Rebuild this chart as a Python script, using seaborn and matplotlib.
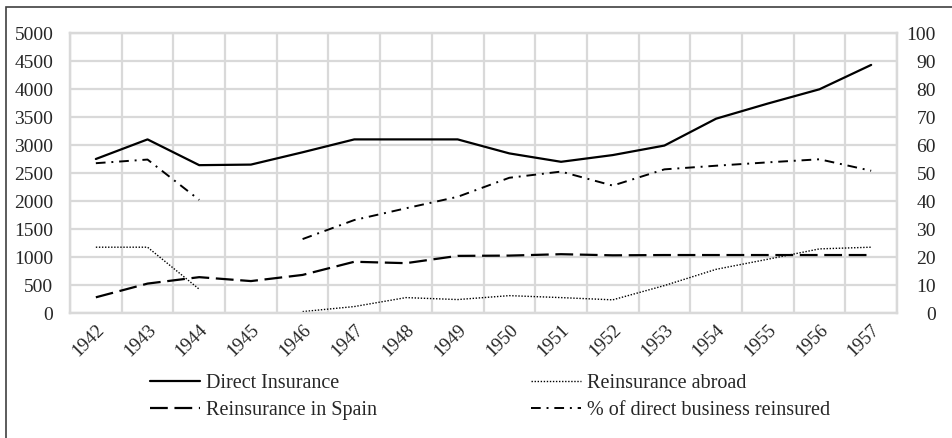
import numpy as np
import matplotlib
matplotlib.use("Agg")
import matplotlib.pyplot as plt
from matplotlib.lines import Line2D
from matplotlib.patches import Rectangle
import pandas as pd
import seaborn as sns

# data
years = [str(y) for y in range(1942, 1958)]
direct_insurance = [2750, 3100, 2640, 2650, 2870, 3100, 3100, 3100, 2850, 2700,
                    2820, 2990, 3470, 3740, 3995, 4430]
reins_spain = [280, 525, 640, 570, 680, 915, 890, 1020, 1025, 1050,
               1030, 1035, 1035, 1035, 1035, 1035]
reins_abroad = [1175, 1175, 425, np.nan, 25, 115, 275, 240, 310, 275,
                235, 490, 780, 960, 1145, 1175]
pct_reinsured = [53.5, 54.8, 40.4, np.nan, 26.4, 33.2, 37.4, 41.5, 48.3, 50.5,
                 45.5, 51.3, 52.6, 53.8, 54.9, 50.8]

left_ticks = list(range(0, 5001, 500))
right_ticks = list(range(0, 101, 10))

GRID = "#d9d9d9"
sns.set_theme(style="white")
plt.rcParams["font.family"] = ["Liberation Serif", "DejaVu Serif"]
plt.rcParams["font.size"] = 14

fig = plt.figure(figsize=(9.52, 4.38), dpi=100)
ax = fig.add_axes([70 / 952, 1 - 313 / 438, 827 / 952, 280 / 438])
ax2 = ax.twinx()

styles = {
    "Direct Insurance": dict(linestyle="-", linewidth=1.6),
    "Reinsurance in Spain": dict(linestyle=(0, (8, 3)), linewidth=1.6),
    "Reinsurance abroad": dict(linestyle=(0, (1, 1.2)), linewidth=1.0),
    "% of direct business reinsured": dict(linestyle=(0, (5, 3, 1, 3)), linewidth=1.4),
}

def draw(target, values, name):
    df = pd.DataFrame({"x": np.arange(len(years)), "y": values})
    # split on gaps so the line breaks where a year is missing
    seg = df["y"].isna().cumsum()
    for _, part in df.dropna().groupby(seg[df["y"].notna()]):
        sns.lineplot(data=part, x="x", y="y", ax=target, color="black",
                     legend=False, **styles[name])

draw(ax, direct_insurance, "Direct Insurance")
draw(ax, reins_spain, "Reinsurance in Spain")
draw(ax, reins_abroad, "Reinsurance abroad")
draw(ax2, pct_reinsured, "% of direct business reinsured")

ax.set_xlim(-0.5, len(years) - 0.5)
ax.set_ylim(0, 5000)
ax2.set_ylim(0, 100)
ax.set_xticks(np.arange(len(years)))
ax.set_xticks(np.arange(len(years) + 1) - 0.5, minor=True)
ax.set_xticklabels(years, rotation=45, ha="right", va="top",
                   rotation_mode="anchor")
ax.set_yticks(left_ticks)
ax2.set_yticks(right_ticks)
for lab in ax2.get_yticklabels():
    lab.set_horizontalalignment("right")

ax.grid(False)
ax2.grid(False)
ax.grid(True, axis="x", which="minor", color=GRID, linewidth=1.6)
ax.grid(True, axis="y", which="major", color=GRID, linewidth=1.6)
ax.tick_params(axis="x", which="both", length=0, pad=6, labelsize=13.5)
ax.tick_params(axis="y", length=0, pad=12, labelsize=14)
ax2.tick_params(axis="y", length=0, pad=28, labelsize=14)
ax.set_xlabel("")
ax.set_ylabel("")
ax2.set_xlabel("")
ax2.set_ylabel("")
for a in (ax, ax2):
    for sp in a.spines.values():
        sp.set_color(GRID)
        sp.set_linewidth(1.6)

labels = ["Direct Insurance", "Reinsurance in Spain",
          "Reinsurance abroad", "% of direct business reinsured"]
handles = [Line2D([], [], color="black", **styles[n]) for n in labels]
fig.legend(handles, labels, ncol=2, frameon=False, fontsize=14.5,
           loc="upper left", bbox_to_anchor=(136 / 952, 1 - 360 / 438),
           handlelength=2.5, handletextpad=0.3, columnspacing=7.6,
           labelspacing=0.4, borderpad=0.2)

# outer chart border (only top and left edges fall inside the image)
fig.add_artist(Rectangle((5.5 / 952, -0.2), 2, 1.2 - 6.5 / 438,
                         transform=fig.transFigure, fill=False,
                         edgecolor="#404040", linewidth=1.2))

fig.savefig("out.png", dpi=100)
